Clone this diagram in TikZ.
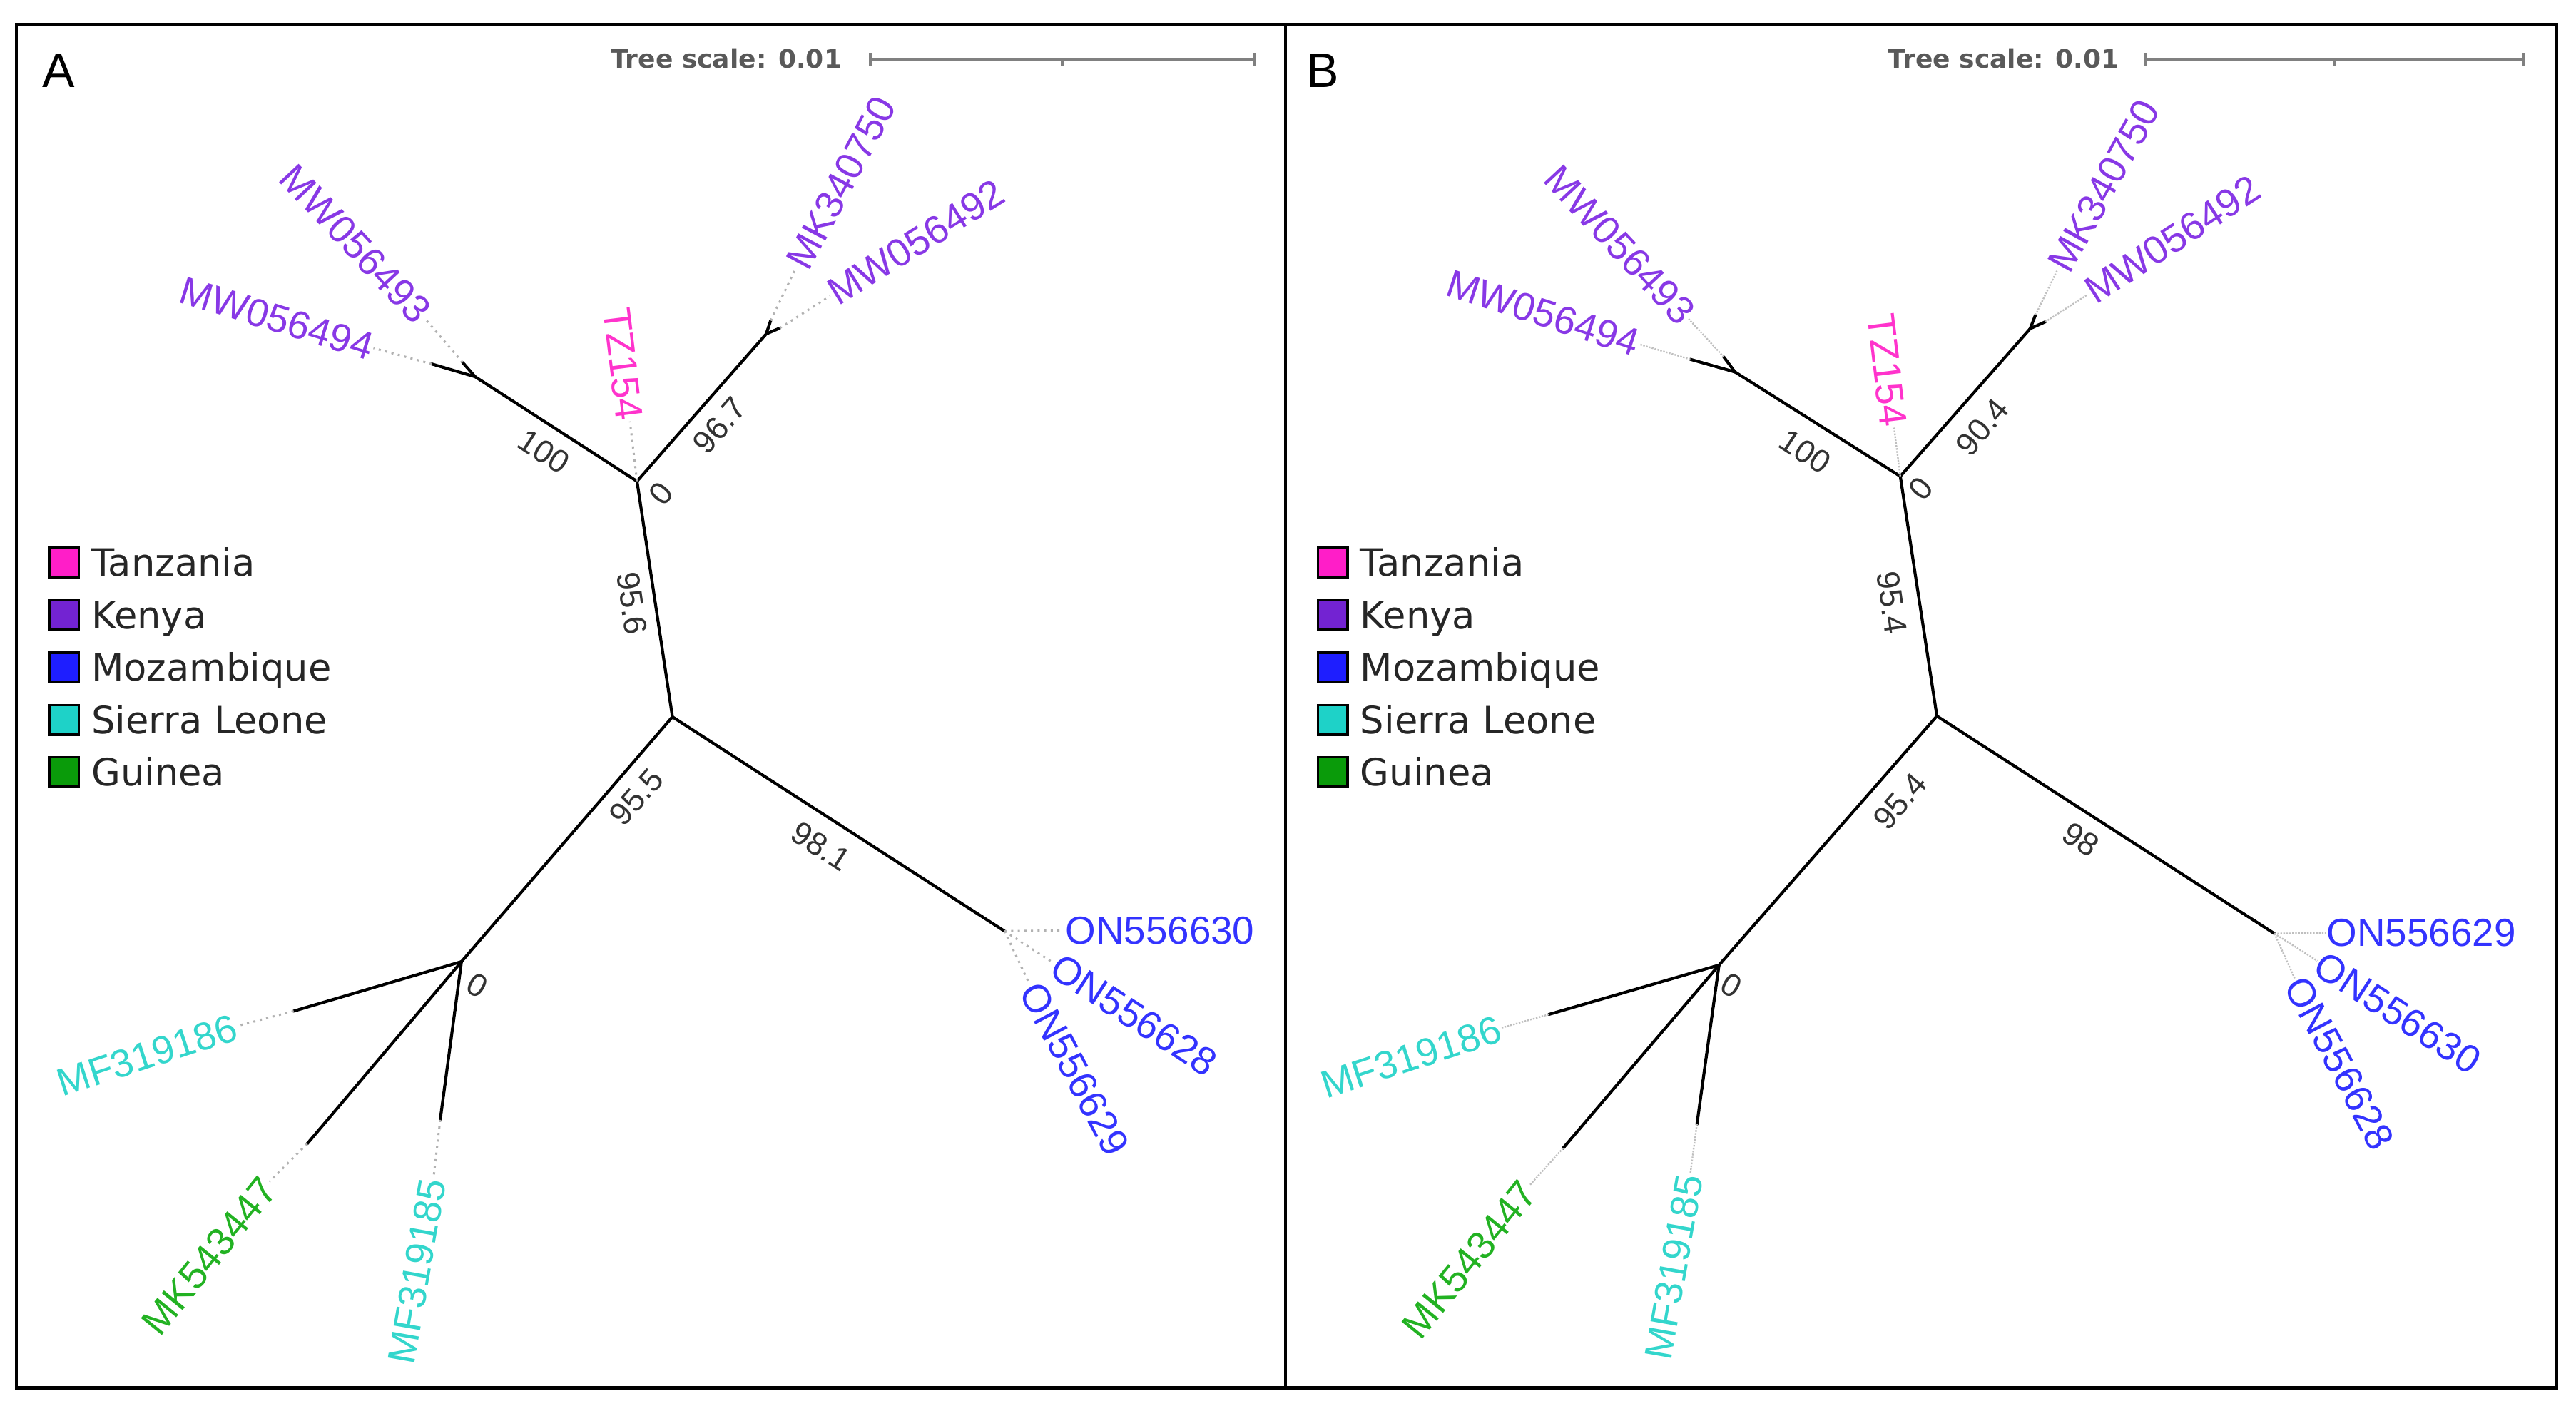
\documentclass[tikz,border=0pt]{standalone}
\usepackage{fontspec}
\setmainfont{Liberation Sans}
\newfontfamily\legfont{DejaVu Sans}
\definecolor{tzc}{RGB}{255,51,204}
\definecolor{kec}{RGB}{136,56,230}
\definecolor{moc}{RGB}{51,51,255}
\definecolor{slc}{RGB}{51,214,204}
\definecolor{guc}{RGB}{34,178,34}
\definecolor{tzf}{RGB}{255,30,200}
\definecolor{kef}{RGB}{115,35,210}
\definecolor{mof}{RGB}{30,30,255}
\definecolor{slf}{RGB}{30,210,200}
\definecolor{guf}{RGB}{10,155,10}
\begin{document}
\begin{tikzpicture}[x=1pt,y=-1pt,
  branch/.style={line width=1.8pt, black, line cap=round},
  leafdot/.style={draw=black!30, line width=1.3pt, dash pattern=on 1.3pt off 2.7pt},
  leafdotb/.style={draw=black!25, line width=1.0pt, dash pattern=on 1pt off 0.8pt},
  lab/.style={font=\fontsize{23.7}{28}\selectfont, inner sep=0.6pt},
  sup/.style={font=\fontsize{19.5}{22}\selectfont, text=black!80, inner sep=0pt},
  legbox/.style={draw=black, line width=1.6pt, minimum size=18pt, inner sep=0pt},
  legtxt/.style={font=\legfont\fontsize{22.8}{26}\selectfont, anchor=base west, inner sep=0pt, text=black!85},
  panel/.style={draw=black, line width=2pt},
  scalebar/.style={draw=black!50, line width=1.8pt},
  scaletxt/.style={font=\legfont\bfseries\fontsize{15.6}{18}\selectfont, text=black!65, inner sep=0pt, anchor=base east},
  panlet/.style={font=\fontsize{29.5}{32}\selectfont, inner sep=0pt, anchor=base west}]
\useasboundingbox (0,0) rectangle (1563,853.1);
\fill[white] (0,0) rectangle (1563,853.1);
\draw[panel] (10,15) rectangle (780,842);
\draw[panel] (780,15) rectangle (1551,842);
\node[panlet] (letA) at (25.5,53) {A};
\node[panlet] (letB) at (792.5,53) {B};
% scale bars
\node[scaletxt] (tsA) at (511,41.5) {Tree scale: 0.01};
\coordinate (sbA1) at (528,36.2); \coordinate (sbA2) at (761,36.2); \coordinate (sbAm) at (644.5,36.2);
\draw[scalebar] (sbA1) -- (sbA2);
\draw[scalebar] ([yshift=4pt]sbA1) -- ([yshift=-4pt]sbA1);
\draw[scalebar] ([yshift=4pt]sbA2) -- ([yshift=-4pt]sbA2);
\draw[scalebar] (sbAm) -- ([yshift=-4pt]sbAm);
\node[scaletxt] (tsB) at (1286,41.5) {Tree scale: 0.01};
\coordinate (sbB1) at (1302,36.2); \coordinate (sbB2) at (1531,36.2); \coordinate (sbBm) at (1416.5,36.2);
\draw[scalebar] (sbB1) -- (sbB2);
\draw[scalebar] ([yshift=4pt]sbB1) -- ([yshift=-4pt]sbB1);
\draw[scalebar] ([yshift=4pt]sbB2) -- ([yshift=-4pt]sbB2);
\draw[scalebar] (sbBm) -- ([yshift=-4pt]sbBm);
% legends
\foreach \px/\tx/\pn in {38.85/55.3/A, 808.7/825.2/B}{
  \node[legbox, fill=tzf] (lgTz\pn) at (\px,341.3) {};
  \node[legtxt] (ltTz\pn) at (\tx,349.6) {Tanzania};
  \node[legbox, fill=kef] (lgKe\pn) at (\px,373.3) {};
  \node[legtxt] (ltKe\pn) at (\tx,381.6) {Kenya};
  \node[legbox, fill=mof] (lgMo\pn) at (\px,405) {};
  \node[legtxt] (ltMo\pn) at (\tx,413.3) {Mozambique};
  \node[legbox, fill=slf] (lgSl\pn) at (\px,436.8) {};
  \node[legtxt] (ltSl\pn) at (\tx,445.1) {Sierra Leone};
  \node[legbox, fill=guf] (lgGu\pn) at (\px,468.5) {};
  \node[legtxt] (ltGu\pn) at (\tx,476.8) {Guinea};
}
% ================= Tree A =================
\coordinate (Pa) at (386.5,292);
\coordinate (Ua) at (288.3,228.6);
\coordinate (Ua1) at (261.9,220.8);
\coordinate (Ua2) at (280.7,219.9);
\coordinate (Va) at (464.9,202.6);
\coordinate (Va1) at (467.6,194.5);
\coordinate (Va2) at (473.1,199.1);
\coordinate (Qa) at (408,435);
\coordinate (Ra) at (280,583.5);
\coordinate (Ra1) at (178.2,613.5);
\coordinate (Ra2) at (186.4,694);
\coordinate (Ra3) at (267.1,679.5);
\coordinate (Sa) at (609.5,565);
\draw[branch] (Ua1) -- (Ua) -- (Pa) -- (Va) -- (Va1);
\draw[branch] (Ua) -- (Ua2);
\draw[branch] (Va) -- (Va2);
\draw[branch] (Pa) -- (Qa) -- (Sa);
\draw[branch] (Qa) -- (Ra) -- (Ra1);
\draw[branch] (Ra) -- (Ra2);
\draw[branch] (Ra) -- (Ra3);
% leaf labels A
\coordinate (eA1) at (226.6,211.2);
\coordinate (eA2) at (257.5,192.9);
\coordinate (eA3) at (382.2,255.7);
\coordinate (eA4) at (483.1,162.2);
\coordinate (eA5) at (503.7,179.6);
\coordinate (eA6) at (645.7,564.5);
\coordinate (eA7) at (639.2,584.3);
\coordinate (eA8) at (624.7,597.3);
\coordinate (eA9) at (144,622.5);
\coordinate (eA10) at (163.5,717);
\coordinate (eA11) at (263,715);
\draw[leafdot] (Ua1) -- (eA1);
\draw[leafdot] (Ua2) -- (eA2);
\draw[leafdot] (Pa) -- (eA3);
\draw[leafdot] (Va1) -- (eA4);
\draw[leafdot] (Va2) -- (eA5);
\draw[leafdot] (Sa) -- (eA6);
\draw[leafdot] (Sa) -- (eA7);
\draw[leafdot] (Sa) -- (eA8);
\draw[leafdot] (Ra1) -- (eA9);
\draw[leafdot] (Ra2) -- (eA10);
\draw[leafdot] (Ra3) -- (eA11);
\node[lab, text=kec, anchor=east, rotate=-17] (lA1) at (eA1) {MW056494};
\node[lab, text=kec, anchor=east, rotate=-47] (lA2) at (eA2) {MW056493};
\node[lab, text=tzc, anchor=east, rotate=-83] (lA3) at (eA3) {TZ154};
\node[lab, text=kec, anchor=west, rotate=62] (lA4) at (eA4) {MK340750};
\node[lab, text=kec, anchor=west, rotate=32] (lA5) at (eA5) {MW056492};
\node[lab, text=moc, anchor=west, rotate=0] (lA6) at (eA6) {ON556630};
\node[lab, text=moc, anchor=west, rotate=-33] (lA7) at (eA7) {ON556628};
\node[lab, text=moc, anchor=west, rotate=-62] (lA8) at (eA8) {ON556629};
\node[lab, text=slc, anchor=east, rotate=18] (lA9) at (eA9) {MF319186};
\node[lab, text=guc, anchor=east, rotate=51] (lA10) at (eA10) {MK543447};
\node[lab, text=slc, anchor=east, rotate=80] (lA11) at (eA11) {MF319185};
% supports A
\node[sup, rotate=-33] (sA1) at (330,274) {100};
\node[sup, rotate=49] (sA2) at (436.6,258.2) {96.7};
\node[sup, rotate=50] (sA3) at (401,299.5) {0};
\node[sup, rotate=-82] (sA4) at (383.6,366.2) {95.6};
\node[sup, rotate=49] (sA5) at (386.1,483.5) {95.5};
\node[sup, rotate=-33] (sA6) at (498.2,513.5) {98.1};
\node[sup, rotate=-30] (sA7) at (289.5,598) {0};
% ================= Tree B =================
\coordinate (Pb) at (1153,289);
\coordinate (Ub) at (1052.7,225.7);
\coordinate (Ub1) at (1025.6,218);
\coordinate (Ub2) at (1045.9,216.6);
\coordinate (Vb) at (1231.8,199.4);
\coordinate (Vb1) at (1235,191.2);
\coordinate (Vb2) at (1240.9,195.3);
\coordinate (Qb) at (1175.2,434.5);
\coordinate (Rb) at (1043,585.6);
\coordinate (Rb1) at (939.8,615.5);
\coordinate (Rb2) at (948.4,696.7);
\coordinate (Rb3) at (1029.6,682.2);
\coordinate (Sb) at (1380,566.5);
\draw[branch] (Ub1) -- (Ub) -- (Pb) -- (Vb) -- (Vb1);
\draw[branch] (Ub) -- (Ub2);
\draw[branch] (Vb) -- (Vb2);
\draw[branch] (Pb) -- (Qb) -- (Sb);
\draw[branch] (Qb) -- (Rb) -- (Rb1);
\draw[branch] (Rb) -- (Rb2);
\draw[branch] (Rb) -- (Rb3);
\coordinate (eB1) at (994.7,208.9);
\coordinate (eB2) at (1024.6,193.5);
\coordinate (eB3) at (1149.2,259.5);
\coordinate (eB4) at (1248.3,163.8);
\coordinate (eB5) at (1266.6,178.8);
\coordinate (eB6) at (1411,566);
\coordinate (eB7) at (1406,583);
\coordinate (eB8) at (1392.3,593.7);
\coordinate (eB9) at (910.9,623.7);
\coordinate (eB10) at (928.3,719);
\coordinate (eB11) at (1025.6,712.2);
\draw[leafdotb] (Ub1) -- (eB1);
\draw[leafdotb] (Ub2) -- (eB2);
\draw[leafdotb] (Pb) -- (eB3);
\draw[leafdotb] (Vb1) -- (eB4);
\draw[leafdotb] (Vb2) -- (eB5);
\draw[leafdotb] (Sb) -- (eB6);
\draw[leafdotb] (Sb) -- (eB7);
\draw[leafdotb] (Sb) -- (eB8);
\draw[leafdotb] (Rb1) -- (eB9);
\draw[leafdotb] (Rb2) -- (eB10);
\draw[leafdotb] (Rb3) -- (eB11);
\node[lab, text=kec, anchor=east, rotate=-18] (lB1) at (eB1) {MW056494};
\node[lab, text=kec, anchor=east, rotate=-47] (lB2) at (eB2) {MW056493};
\node[lab, text=tzc, anchor=east, rotate=-83] (lB3) at (eB3) {TZ154};
\node[lab, text=kec, anchor=west, rotate=61] (lB4) at (eB4) {MK340750};
\node[lab, text=kec, anchor=west, rotate=33] (lB5) at (eB5) {MW056492};
\node[lab, text=moc, anchor=west, rotate=0] (lB6) at (eB6) {ON556629};
\node[lab, text=moc, anchor=west, rotate=-33] (lB7) at (eB7) {ON556630};
\node[lab, text=moc, anchor=west, rotate=-62] (lB8) at (eB8) {ON556628};
\node[lab, text=slc, anchor=east, rotate=18] (lB9) at (eB9) {MF319186};
\node[lab, text=guc, anchor=east, rotate=51] (lB10) at (eB10) {MK543447};
\node[lab, text=slc, anchor=east, rotate=80] (lB11) at (eB11) {MF319185};
\node[sup, rotate=-33] (sB1) at (1095.2,274) {100};
\node[sup, rotate=50] (sB2) at (1202.8,259.1) {90.4};
\node[sup, rotate=50] (sB3) at (1165.3,296.3) {0};
\node[sup, rotate=-82] (sB4) at (1148,365.6) {95.4};
\node[sup, rotate=49] (sB5) at (1152.7,486.2) {95.4};
\node[sup, rotate=-33] (sB6) at (1262.5,509.4) {98};
\node[sup, rotate=-30] (sB7) at (1050.5,597.9) {0};
\end{tikzpicture}
\end{document}
